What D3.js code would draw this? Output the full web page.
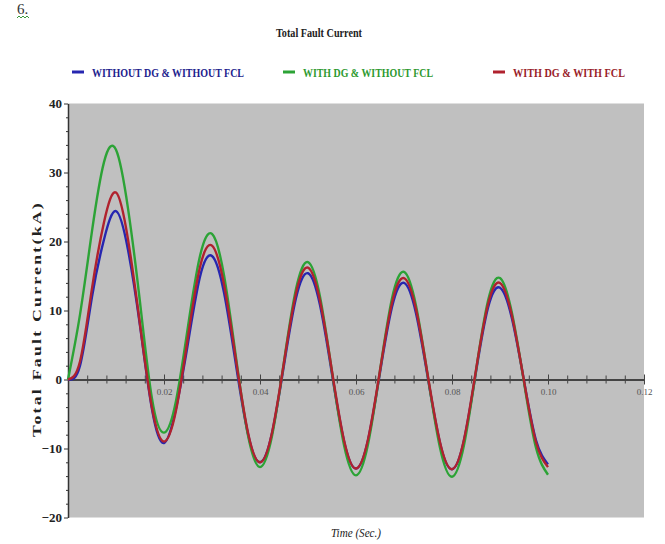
<!DOCTYPE html>
<html>
<head>
<meta charset="utf-8">
<script src="https://cdn.jsdelivr.net/npm/d3@7"></script>
<style>
  body { margin: 0; background: #fff; }
  svg { display: block; }
  text { font-family: "Liberation Serif", "Times New Roman", serif; }
</style>
</head>
<body>
<svg id="chart" width="665" height="544"></svg>
<script>
// sample times (s)
const time = d3.range(41).map(i => +(i * 0.0025).toFixed(4));

// values (kA), one per sample time
const withoutDgWithoutFcl = [
  0, 2.0, 12.0, 20.3, 24.4, 18.8, 7.8, -4.3, -9.2,
  -4.2, 5.3, 14.9, 17.9, 12.6, 2.1, -7.9, -12.0,
  -7.8, 2.1, 11.8, 15.4, 10.8, 0.8, -8.9, -12.9,
  -8.8, 1.0, 10.5, 14.0, 9.6, 0.1, -9.2, -13.0,
  -8.8, 1.1, 10.4, 13.3, 8.8, -0.2, -8.8, -12.3
];
const withDgWithoutFcl = [
  0, 9.4, 21.5, 31.5, 33.3, 24.8, 11.2, -2.8, -7.7,
  -3.1, 7.7, 17.9, 21.1, 15.1, 3.2, -8.1, -12.7,
  -8.2, 2.6, 13.1, 17.0, 12.0, 1.1, -9.5, -13.9,
  -9.4, 1.3, 11.75, 15.6, 10.7, 0.3, -9.9, -14.1,
  -9.5, 1.25, 11.4, 14.7, 9.6, -0.4, -9.9, -13.8
];
const withDgWithFcl = [
  0, 2.6, 13.2, 22.8, 27.1, 20.3, 8.0, -4.1, -9.0,
  -4.5, 6.2, 16.3, 19.4, 13.8, 2.8, -7.7, -12.0,
  -7.7, 2.5, 12.5, 16.2, 11.4, 1.2, -8.8, -12.9,
  -8.7, 1.3, 11.1, 14.7, 10.2, 0.4, -9.1, -13.0,
  -8.7, 1.4, 10.9, 14.0, 9.2, -0.2, -9.1, -12.7
];

const seriesNames = ['WITHOUT DG & WITHOUT FCL', 'WITH DG & WITHOUT FCL', 'WITH DG & WITH FCL'];
const seriesValues = [withoutDgWithoutFcl, withDgWithoutFcl, withDgWithFcl];
const lineColors = ['#2626b0', '#2ca336', '#b0222e'];
const textColors = ['#1e1e8e', '#2e9a30', '#9a1e2a'];

const yMajor = [-20, -10, 0, 10, 20, 30, 40];
const xMajor = [0.02, 0.04, 0.06, 0.08, 0.10, 0.12];

const svg = d3.select('#chart');

const x = d3.scaleLinear().domain([0, 0.12]).range([68, 644]);
const y = d3.scaleLinear().domain([-20, 40]).range([517.5, 103.5]);

// plot background
svg.append('rect')
  .attr('x', x(0)).attr('y', y(40))
  .attr('width', x(0.12) - x(0)).attr('height', y(-20) - y(40))
  .attr('fill', '#c0c0c0');

// stray page mark at top left
svg.append('text')
  .attr('x', 17).attr('y', 14)
  .attr('font-size', 15).attr('fill', '#333')
  .text('6.');
svg.append('path')
  .attr('d', 'M17,18 l2,-2 l2,2 l2,-2 l2,2 l2,-2 l2,2')
  .attr('fill', 'none').attr('stroke', '#3a9a3a').attr('stroke-width', 1);

// title
svg.append('text')
  .attr('x', 319).attr('y', 37)
  .attr('text-anchor', 'middle')
  .attr('font-size', 12).attr('font-weight', 'bold').attr('fill', '#222')
  .attr('textLength', 86).attr('lengthAdjust', 'spacingAndGlyphs')
  .text('Total Fault Current');

// legend
const legendX = [72, 283, 493];
const legendW = [152, 130, 112];
seriesNames.forEach((name, i) => {
  const g = svg.append('g').attr('transform', `translate(${legendX[i]},72)`);
  g.append('line')
    .attr('x1', 0).attr('x2', 12)
    .attr('stroke', lineColors[i]).attr('stroke-width', 3);
  g.append('text')
    .attr('x', 20).attr('y', 5)
    .attr('font-size', 13).attr('font-weight', 'bold')
    .attr('fill', textColors[i])
    .attr('textLength', legendW[i]).attr('lengthAdjust', 'spacingAndGlyphs')
    .text(name);
});

// y axis
const yAxis = svg.append('g')
  .attr('transform', `translate(${x(0)},0)`)
  .call(d3.axisLeft(y).tickValues(yMajor).tickSize(4).tickSizeOuter(0).tickPadding(2));
yAxis.select('.domain').attr('stroke', '#333').attr('stroke-width', 1.5);
yAxis.selectAll('.tick line').attr('stroke', '#333');
yAxis.selectAll('.tick text')
  .attr('font-family', '"Liberation Serif", serif')
  .attr('font-size', 13).attr('font-weight', 'bold').attr('fill', '#222');

svg.append('g')
  .attr('transform', `translate(${x(0)},0)`)
  .call(d3.axisLeft(y).tickValues(d3.range(-20, 41, 2).filter(v => v % 10 !== 0))
    .tickSize(2).tickFormat(''))
  .call(g => g.select('.domain').remove())
  .selectAll('.tick line').attr('stroke', '#333');

// x axis on the zero line
const xAxis = svg.append('g')
  .attr('transform', `translate(0,${y(0)})`)
  .call(d3.axisBottom(x).tickValues(xMajor).tickFormat(d3.format('.2f')).tickSizeOuter(0));
xAxis.select('.domain').attr('stroke', '#444').attr('stroke-width', 2);
xAxis.selectAll('.tick line').attr('y1', -5).attr('y2', 5).attr('stroke', '#444');
xAxis.selectAll('.tick text')
  .attr('y', 9)
  .attr('font-family', '"Liberation Serif", serif')
  .attr('font-size', 9).attr('fill', '#555');

svg.append('g')
  .attr('transform', `translate(0,${y(0)})`)
  .call(d3.axisBottom(x).tickValues(d3.range(1, 30).map(i => i * 0.004).filter(v => Math.abs(v / 0.02 - Math.round(v / 0.02)) > 1e-6))
    .tickFormat(''))
  .call(g => g.select('.domain').remove())
  .selectAll('.tick line').attr('y1', -4).attr('y2', 4).attr('stroke', '#444');

// series lines
const line = d3.line()
  .x((d, i) => x(time[i]))
  .y(d => y(d))
  .curve(d3.curveNatural);

seriesValues.forEach((vals, i) => {
  svg.append('path')
    .datum(vals)
    .attr('d', line)
    .attr('fill', 'none')
    .attr('stroke', lineColors[i])
    .attr('stroke-width', 2.4);
});

// axis titles
svg.append('text')
  .attr('transform', 'translate(41,319) rotate(-90)')
  .attr('text-anchor', 'middle')
  .attr('font-size', 12).attr('font-weight', 'bold').attr('fill', '#222')
  .attr('letter-spacing', 1.5)
  .attr('textLength', 236).attr('lengthAdjust', 'spacingAndGlyphs')
  .text('Total Fault Current(kA)');

svg.append('text')
  .attr('x', 356).attr('y', 537)
  .attr('text-anchor', 'middle')
  .attr('font-size', 12).attr('font-style', 'italic').attr('fill', '#222')
  .attr('textLength', 50).attr('lengthAdjust', 'spacingAndGlyphs')
  .text('Time (Sec.)');
</script>
</body>
</html>
